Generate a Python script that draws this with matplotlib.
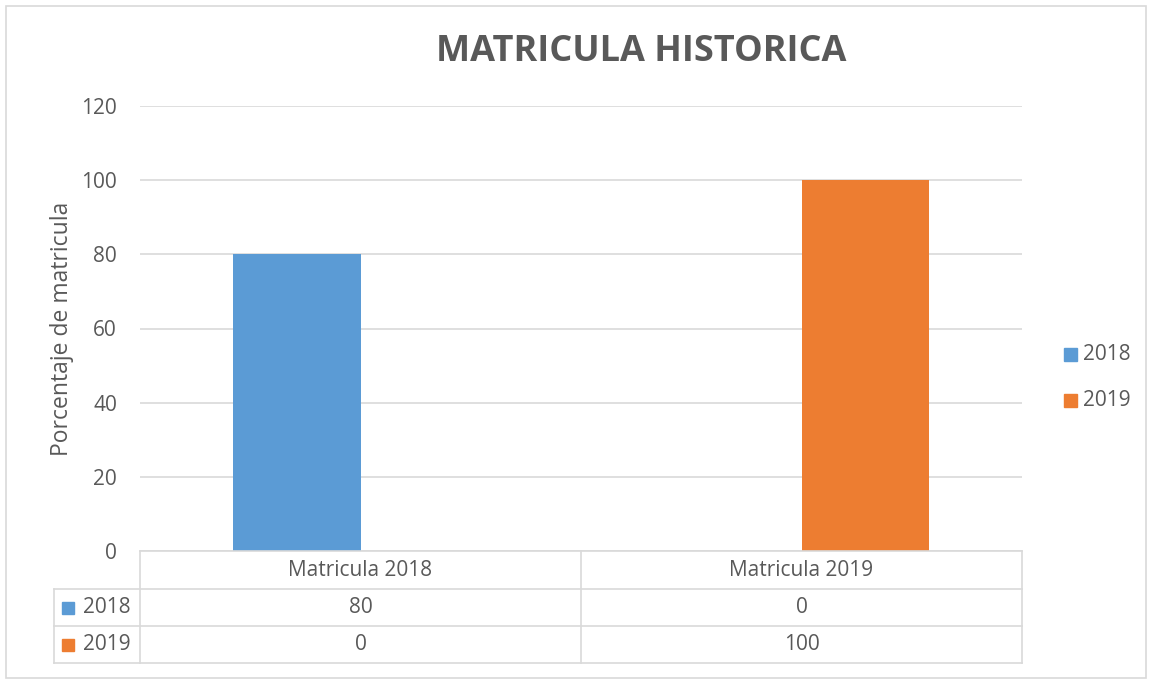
import matplotlib
matplotlib.use("Agg")
import matplotlib.pyplot as plt
import numpy as np
from matplotlib.patches import Rectangle
from matplotlib.lines import Line2D

categories = ["Matricula 2018", "Matricula 2019"]
series_names = ["2018", "2019"]
values_2018 = [80, 0]
values_2019 = [0, 100]
yticks = [0, 20, 40, 60, 80, 100, 120]
colors = ["#5B9BD5", "#ED7D31"]
title = "MATRICULA HISTORICA"
ylabel = "Porcentaje de matricula"

TXT = "#595959"
GRID = "#D9D9D9"
W, H = 1151, 682
fig = plt.figure(figsize=(W / 100, H / 100), dpi=100)
plt.rcParams['font.family'] = ['Open Sans', 'DejaVu Sans']

def fx(px):
    return px / W

def fy(py):
    return 1 - py / H

ax_l, ax_r, ax_t, ax_b = 140, 1022, 106, 551
ax = fig.add_axes([fx(ax_l), fy(ax_b), fx(ax_r - ax_l), (ax_b - ax_t) / H])

x = np.arange(len(categories))
bw = 0.288
series = [values_2018, values_2019]
for i, (vals, c) in enumerate(zip(series, colors)):
    ax.bar(x + (i - 0.5) * bw, vals, width=bw, color=c, zorder=3)

ax.set_xlim(-0.5, len(categories) - 0.5)
ax.set_ylim(0, 120)
ax.set_yticks(yticks)
ax.set_yticklabels([str(t) for t in yticks], fontsize=15, color=TXT)
ax.tick_params(axis='y', length=0, pad=16.5)
ax.set_xticks([])
ax.grid(axis='y', color=GRID, linewidth=1.2, zorder=0)
for s in ax.spines.values():
    s.set_visible(False)
ax.set_ylabel(ylabel, fontsize=16.5, color=TXT, labelpad=5)

# Title
fig.text(fx(641), fy(52), title, ha='center', va='center', fontsize=26,
         fontweight='bold', color=TXT)

# Data table
row_y = [551, 589, 626, 663]
left_col = 54
mid = (ax_l + ax_r) / 2
lw = 1.2
def hline(x0, x1, y):
    fig.add_artist(Line2D([fx(x0), fx(x1)], [fy(y), fy(y)], color=GRID, lw=lw))
def vline(x0, y0, y1):
    fig.add_artist(Line2D([fx(x0), fx(x0)], [fy(y0), fy(y1)], color=GRID, lw=lw))

hline(ax_l, ax_r, row_y[0])
hline(left_col, ax_r, row_y[1])
hline(left_col, ax_r, row_y[2])
hline(left_col, ax_r, row_y[3])
vline(left_col, row_y[1], row_y[3])
vline(ax_l, row_y[0], row_y[3])
vline(mid, row_y[0], row_y[3])
vline(ax_r, row_y[0], row_y[3])

col_centers = [(ax_l + mid) / 2, (mid + ax_r) / 2]
for cx, cat in zip(col_centers, categories):
    fig.text(fx(cx), fy((row_y[0] + row_y[1]) / 2), cat, ha='center', va='center',
             fontsize=15, color=TXT)
for r, (name, vals, c) in enumerate(zip(series_names, series, colors)):
    cy = (row_y[r + 1] + row_y[r + 2]) / 2
    fig.add_artist(Rectangle((fx(62), fy(cy + 6)), fx(12), 12 / H, color=c))
    fig.text(fx(83), fy(cy), name, ha='left', va='center', fontsize=15, color=TXT)
    for cx, v in zip(col_centers, vals):
        fig.text(fx(cx), fy(cy), str(v), ha='center', va='center', fontsize=15, color=TXT)

# Legend
for name, c, ly in zip(series_names, colors, [354, 400]):
    fig.add_artist(Rectangle((fx(1064), fy(ly + 7)), fx(13), 13 / H, color=c))
    fig.text(fx(1083), fy(ly), name, ha='left', va='center', fontsize=15, color=TXT)

# Chart border
fig.add_artist(Rectangle((fx(6), fy(678)), fx(1140), 672 / H, fill=False,
                         edgecolor=GRID, lw=1.2))

fig.savefig("out.png", dpi=100)
